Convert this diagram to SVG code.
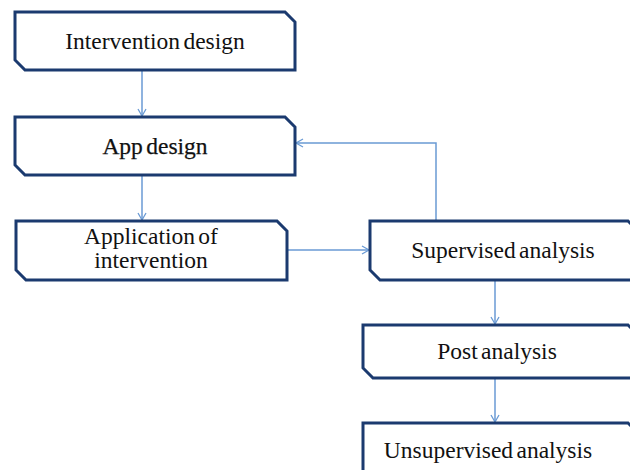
<svg xmlns="http://www.w3.org/2000/svg" width="630" height="470" viewBox="0 0 630 470">
  <style>
    .box { fill: #ffffff; stroke: #1b3a6f; stroke-width: 3; stroke-linejoin: miter; }
    .lbl { font-family: "Liberation Serif", "Times New Roman", serif; font-size: 23.5px; word-spacing: -2.5px; fill: #111111; text-anchor: middle; }
    .heavy { stroke: #111111; stroke-width: 0.25; }
    .link { fill: none; stroke: #6a9ad4; stroke-width: 1.5; }
  </style>
  <defs>
    <marker id="arrow" markerWidth="10" markerHeight="10" refX="8" refY="5" orient="auto" markerUnits="userSpaceOnUse">
      <path d="M1,1 L8,5 L1,9" fill="none" stroke="#6a9ad4" stroke-width="1.3"/>
    </marker>
  </defs>
  <rect width="630" height="470" fill="#ffffff"/>

  <g id="connectors">
    <line class="link" x1="142" y1="70" x2="142" y2="116" marker-end="url(#arrow)"/>
    <line class="link" x1="142" y1="175" x2="142" y2="220" marker-end="url(#arrow)"/>
    <line class="link" x1="287" y1="250" x2="369" y2="250" marker-end="url(#arrow)"/>
    <polyline class="link" points="436,221 436,143 296,143" marker-end="url(#arrow)"/>
    <line class="link" x1="495" y1="280" x2="495" y2="324" marker-end="url(#arrow)"/>
    <line class="link" x1="495" y1="378" x2="495" y2="422" marker-end="url(#arrow)"/>
  </g>

  <g id="intervention-design">
    <path class="box" d="M15,12 H285 L295,22 V70 H25 L15,60 Z"/>
    <text class="lbl" x="155" y="49">Intervention design</text>
  </g>

  <g id="app-design">
    <path class="box" d="M15,117 H285 L295,127 V175 H25 L15,165 Z"/>
    <text class="lbl heavy" x="155" y="154">App design</text>
  </g>

  <g id="application-of-intervention">
    <path class="box" d="M16,221 H277 L287,231 V280 H26 L16,270 Z"/>
    <text class="lbl" x="151" y="244">Application of</text>
    <text class="lbl" x="151" y="268">intervention</text>
  </g>

  <g id="supervised-analysis">
    <path class="box" d="M370,221 H628 L638,231 V280 H380 L370,270 Z"/>
    <text class="lbl" x="503" y="258">Supervised analysis</text>
  </g>

  <g id="post-analysis">
    <path class="box" d="M363,325 H628 L638,335 V378 H373 L363,368 Z"/>
    <text class="lbl" x="497" y="359">Post analysis</text>
  </g>

  <g id="unsupervised-analysis">
    <path class="box" d="M363,423 H628 L638,433 V485 H373 L363,475 Z"/>
    <text class="lbl" x="488" y="458">Unsupervised analysis</text>
  </g>
</svg>
